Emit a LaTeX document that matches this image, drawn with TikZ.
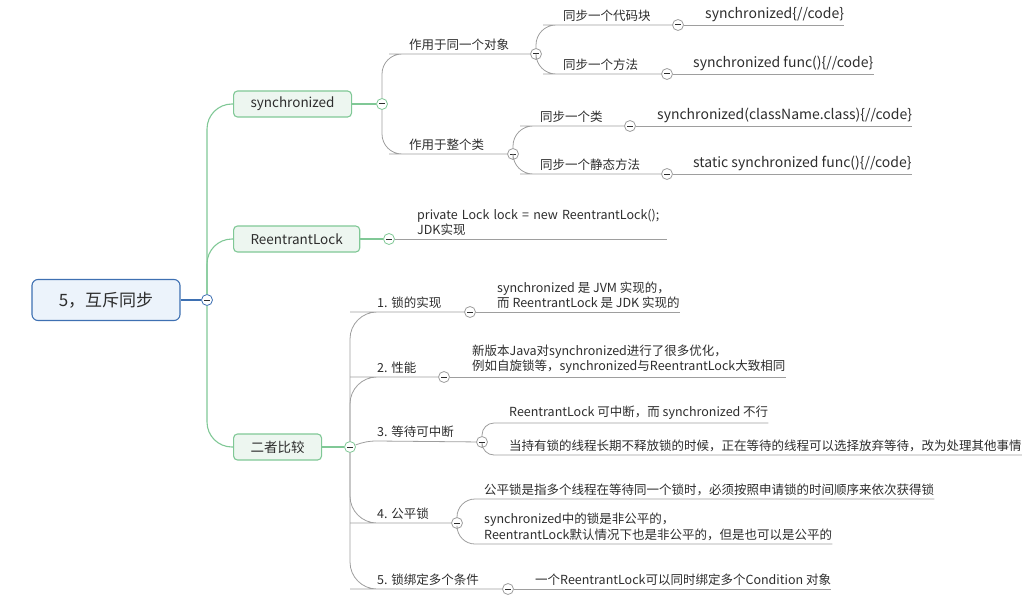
\documentclass[tikz,border=0pt]{standalone}
\usepackage{fontspec}
\setmainfont{Noto Sans CJK SC}
\usepackage{xcolor}
\usepackage{tikz}
\definecolor{mroot}{RGB}{62,112,178}
\definecolor{mrootf}{RGB}{236,243,251}
\definecolor{mtopic}{RGB}{128,200,150}
\definecolor{mtopicf}{RGB}{237,246,240}
\definecolor{mline}{RGB}{158,158,158}
\definecolor{mtext}{RGB}{45,45,45}
\newcommand{\fsz}[1]{\fontsize{#1}{1.22\dimexpr#1pt\relax}\selectfont}
\tikzset{
  root/.style={rectangle,rounded corners=6pt,draw=mroot,line width=1.1pt,fill=mrootf,
               minimum width=148pt,minimum height=41pt,font=\fsz{17},text=mtext},
  topic/.style={rectangle,rounded corners=4pt,draw=mtopic,line width=1.1pt,fill=mtopicf,
                anchor=west,inner xsep=17pt,minimum height=26pt,font=\fsz{13.5},text=mtext},
  fold/.style={circle,draw=mline,fill=white,line width=0.8pt,minimum size=11pt,inner sep=0pt,
               path picture={\draw[mtext,line width=1pt]
                 ([xshift=-2.6pt]path picture bounding box.center) --
                 ([xshift=2.6pt]path picture bounding box.center);}},
  tfold/.style={fold,draw=mtopic},
  rfold/.style={fold,draw=mroot},
  lbl/.style={anchor=south west,inner xsep=0pt,inner ysep=3pt,font=\fsz{12.5},text=mtext},
  leaf/.style={lbl,align=left,font=\fontsize{12.5}{15.5}\selectfont},
  code/.style={lbl,font=\fsz{14}},
  rline/.style={mroot,line width=1.1pt},
  tline/.style={mtopic,line width=1.1pt,rounded corners=25pt},
  bline/.style={mline,line width=0.8pt,rounded corners=20pt},
}
\begin{document}
\begin{tikzpicture}[x=1pt,y=-1pt]
  \useasboundingbox (0,0) rectangle (1024,599);
  % centre and main topics
  \node[root] (root) at (106,300) {5，互斥同步};
  \node[rfold] (rc) at (207,300) {};
  \node[topic] (sync) at (233,104) {synchronized};
  \node[topic] (rl) at (233,239) {ReentrantLock};
  \node[topic] (cmp) at (233,447) {二者比较};
  \node[tfold] (syncc) at (382,104) {};
  \node[tfold] (rlc) at (389,239) {};
  \node[tfold] (cmpc) at (350,447) {};
  \draw[rline] (root) -- (rc);
  \draw[tline] (rc) |- (sync);
  \draw[tline] (rc) |- (rl);
  \draw[tline] (rc) |- (cmp);
  \draw[tline] (sync) -- (syncc);
  \draw[tline] (rl) -- (rlc);
  \draw[tline] (cmp) -- (cmpc);

  % synchronized
  \node[lbl] (obj) at (409,54) {作用于同一个对象};
  \node[fold] (objc) at (536,54) {};
  \node[lbl] (cls) at (409,154) {作用于整个类};
  \node[fold] (clsc) at (513,154) {};
  \draw[bline] (syncc) |- (obj.south west) -- (objc);
  \draw[bline] (syncc) |- (cls.south west) -- (clsc);
  \node[lbl] (blk) at (563,25) {同步一个代码块};
  \node[fold] (blkc) at (678,25) {};
  \node[code] (blkx) at (705,25) {synchronized\{//code\}};
  \node[lbl] (mth) at (563,74) {同步一个方法};
  \node[fold] (mthc) at (667,74) {};
  \node[code] (mthx) at (693,74) {synchronized func()\{//code\}};
  \draw[bline] (objc) |- (blk.south west) -- (blkc);
  \draw[bline] (objc) |- (mth.south west) -- (mthc);
  \draw[bline] (blkc) -- (blkx.south east);
  \draw[bline] (mthc) -- (mthx.south east);
  \node[lbl] (ocl) at (540,126) {同步一个类};
  \node[fold] (oclc) at (630,126) {};
  \node[code] (oclx) at (657,126) {synchronized(className.class)\{//code\}};
  \node[lbl] (smt) at (540,174) {同步一个静态方法};
  \node[fold] (smtc) at (667,174) {};
  \node[code] (smtx) at (693,174) {static synchronized func()\{//code\}};
  \draw[bline] (clsc) |- (ocl.south west) -- (oclc);
  \draw[bline] (clsc) |- (smt.south west) -- (smtc);
  \draw[bline] (oclc) -- (oclx.south east);
  \draw[bline] (smtc) -- (smtx.south east);

  % ReentrantLock
  \node[leaf,text width=250pt] (rlx) at (417,239) {private Lock lock = new ReentrantLock();\\JDK实现};
  \draw[bline] (rlc) -- (rlx.south east);

  % comparison
  \node[lbl] (impl) at (377,312) {1. 锁的实现};
  \node[fold] (implc) at (470,312) {};
  \node[leaf] (implx) at (497,312) {synchronized 是 JVM 实现的，\\而 ReentrantLock 是 JDK 实现的};
  \node[lbl] (perf) at (377,377) {2. 性能};
  \node[fold] (perfc) at (444,377) {};
  \node[leaf] (perfx) at (472,377) {新版本Java对synchronized进行了很多优化，\\例如自旋锁等，synchronized与ReentrantLock大致相同};
  \node[lbl] (intr) at (377,441) {3. 等待可中断};
  \node[fold] (intrc) at (482,442) {};
  \node[leaf] (intra) at (509,423) {ReentrantLock 可中断，而 synchronized 不行};
  \node[leaf] (intrb) at (509,455) {当持有锁的线程长期不释放锁的时候，正在等待的线程可以选择放弃等待，改为处理其他事情};
  \node[lbl] (fair) at (377,523) {4. 公平锁};
  \node[fold] (fairc) at (457,523) {};
  \node[leaf] (faira) at (484,499) {公平锁是指多个线程在等待同一个锁时，必须按照申请锁的时间顺序来依次获得锁};
  \node[leaf] (fairb) at (484,544) {synchronized中的锁是非公平的，\\ReentrantLock默认情况下也是非公平的，但是也可以是公平的};
  \node[lbl] (cond) at (377,589) {5. 锁绑定多个条件};
  \node[fold] (condc) at (508,589) {};
  \node[leaf] (condx) at (535,589) {一个ReentrantLock可以同时绑定多个Condition 对象};
  \draw[bline,rounded corners=27pt] (cmpc) |- (impl.south west) -- (implc);
  \draw[bline,rounded corners=27pt] (cmpc) |- (perf.south west) -- (perfc);
  \draw[mline,line width=0.8pt] (cmpc.20) to[out=20,in=180] (intr.south west) -- (intrc);
  \draw[bline,rounded corners=27pt] (cmpc) |- (fair.south west) -- (fairc);
  \draw[bline,rounded corners=27pt] (cmpc) |- (cond.south west) -- (condc);
  \draw[bline] (implc) -- (implx.south east);
  \draw[bline] (perfc) -- (perfx.south east);
  \draw[bline,rounded corners=12pt] (intrc) |- (intra.south east);
  \draw[bline,rounded corners=12pt] (intrc) |- (intrb.south east);
  \draw[bline,rounded corners=18pt] (fairc) |- (faira.south east);
  \draw[bline,rounded corners=18pt] (fairc) |- (fairb.south east);
  \draw[bline] (condc) -- (condx.south east);
\end{tikzpicture}
\end{document}
